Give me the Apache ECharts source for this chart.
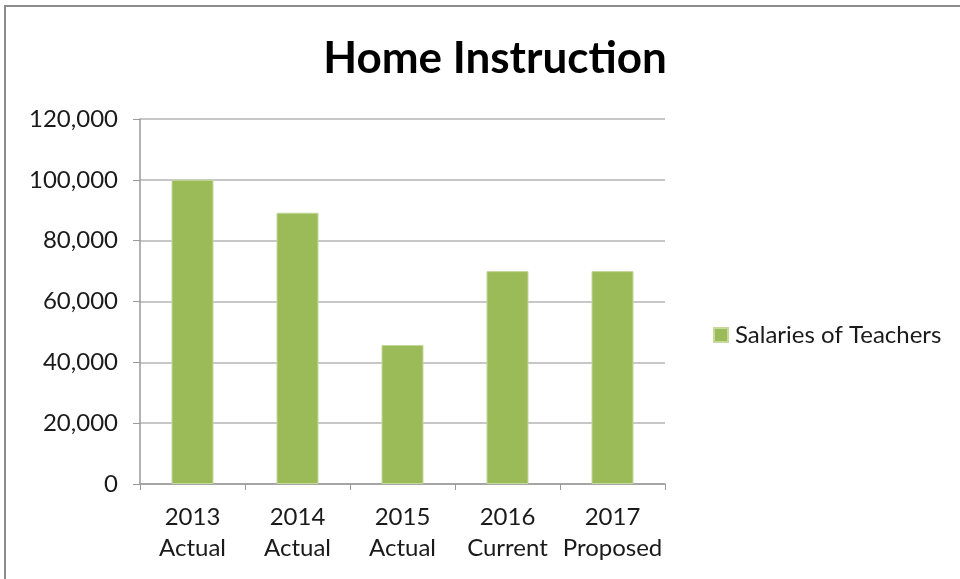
<!DOCTYPE html>
<html>
<head>
<meta charset="utf-8">
<script src="https://cdn.jsdelivr.net/npm/echarts@6/dist/echarts.min.js"></script>
<style>
  html, body { margin: 0; padding: 0; background: #fff; }
  #frame { position: absolute; left: 4px; top: 5px; width: 960px; height: 580px; border: 2px solid #8c8c8c; box-sizing: border-box; }
  #chart { width: 960px; height: 579px; }
</style>
</head>
<body>
<div id="frame"></div>
<div id="chart"></div>
<script>
const categories = ['2013\nActual', '2014\nActual', '2015\nActual', '2016\nCurrent', '2017\nProposed'];
const salaries = [100000, 89200, 45700, 70000, 70000];
const seriesName = 'Salaries of Teachers';

const chart = echarts.init(document.getElementById('chart'));

chart.setOption({
    animation: false,
    title: {
        text: 'Home Instruction',
        left: 490,
        top: 32,
        textAlign: 'center',
        textStyle: { fontFamily: 'Lato', fontWeight: 'bold', fontSize: 44, color: '#000' }
    },
    legend: {
        orient: 'vertical',
        left: 708,
        top: 318,
        itemWidth: 14,
        itemHeight: 14,
        itemGap: 8,
        icon: 'rect',
        textStyle: { fontFamily: 'Lato', fontSize: 24, color: '#1a1a1a', padding: [0, 0, 0, 2] },
        data: [seriesName]
    },
    grid: { left: 140, right: 295, top: 119, bottom: 95 },
    xAxis: {
        type: 'category',
        data: categories,
        axisLine: { lineStyle: { color: '#9a9a9a', width: 1.5 } },
        axisTick: { show: true, length: 6, lineStyle: { color: '#9a9a9a' } },
        axisLabel: { interval: 0, fontFamily: 'Lato', fontSize: 24, color: '#1a1a1a', lineHeight: 31, margin: 18 }
    },
    yAxis: {
        type: 'value',
        min: 0,
        max: 120000,
        interval: 20000,
        axisLine: { show: true, lineStyle: { color: '#9a9a9a', width: 1.5 } },
        axisTick: { show: true, length: 7, lineStyle: { color: '#9a9a9a' } },
        splitLine: { lineStyle: { color: '#b4b4b4', width: 1.5 } },
        axisLabel: {
            fontFamily: 'Lato', fontSize: 24, color: '#1a1a1a', margin: 22,
            formatter: v => v.toLocaleString('en-US')
        }
    },
    series: [{
        name: seriesName,
        type: 'bar',
        data: salaries,
        barWidth: 42,
        itemStyle: { color: '#9bbb59', borderColor: '#c4d99b', borderWidth: 1 }
    }]
});
</script>
</body>
</html>
